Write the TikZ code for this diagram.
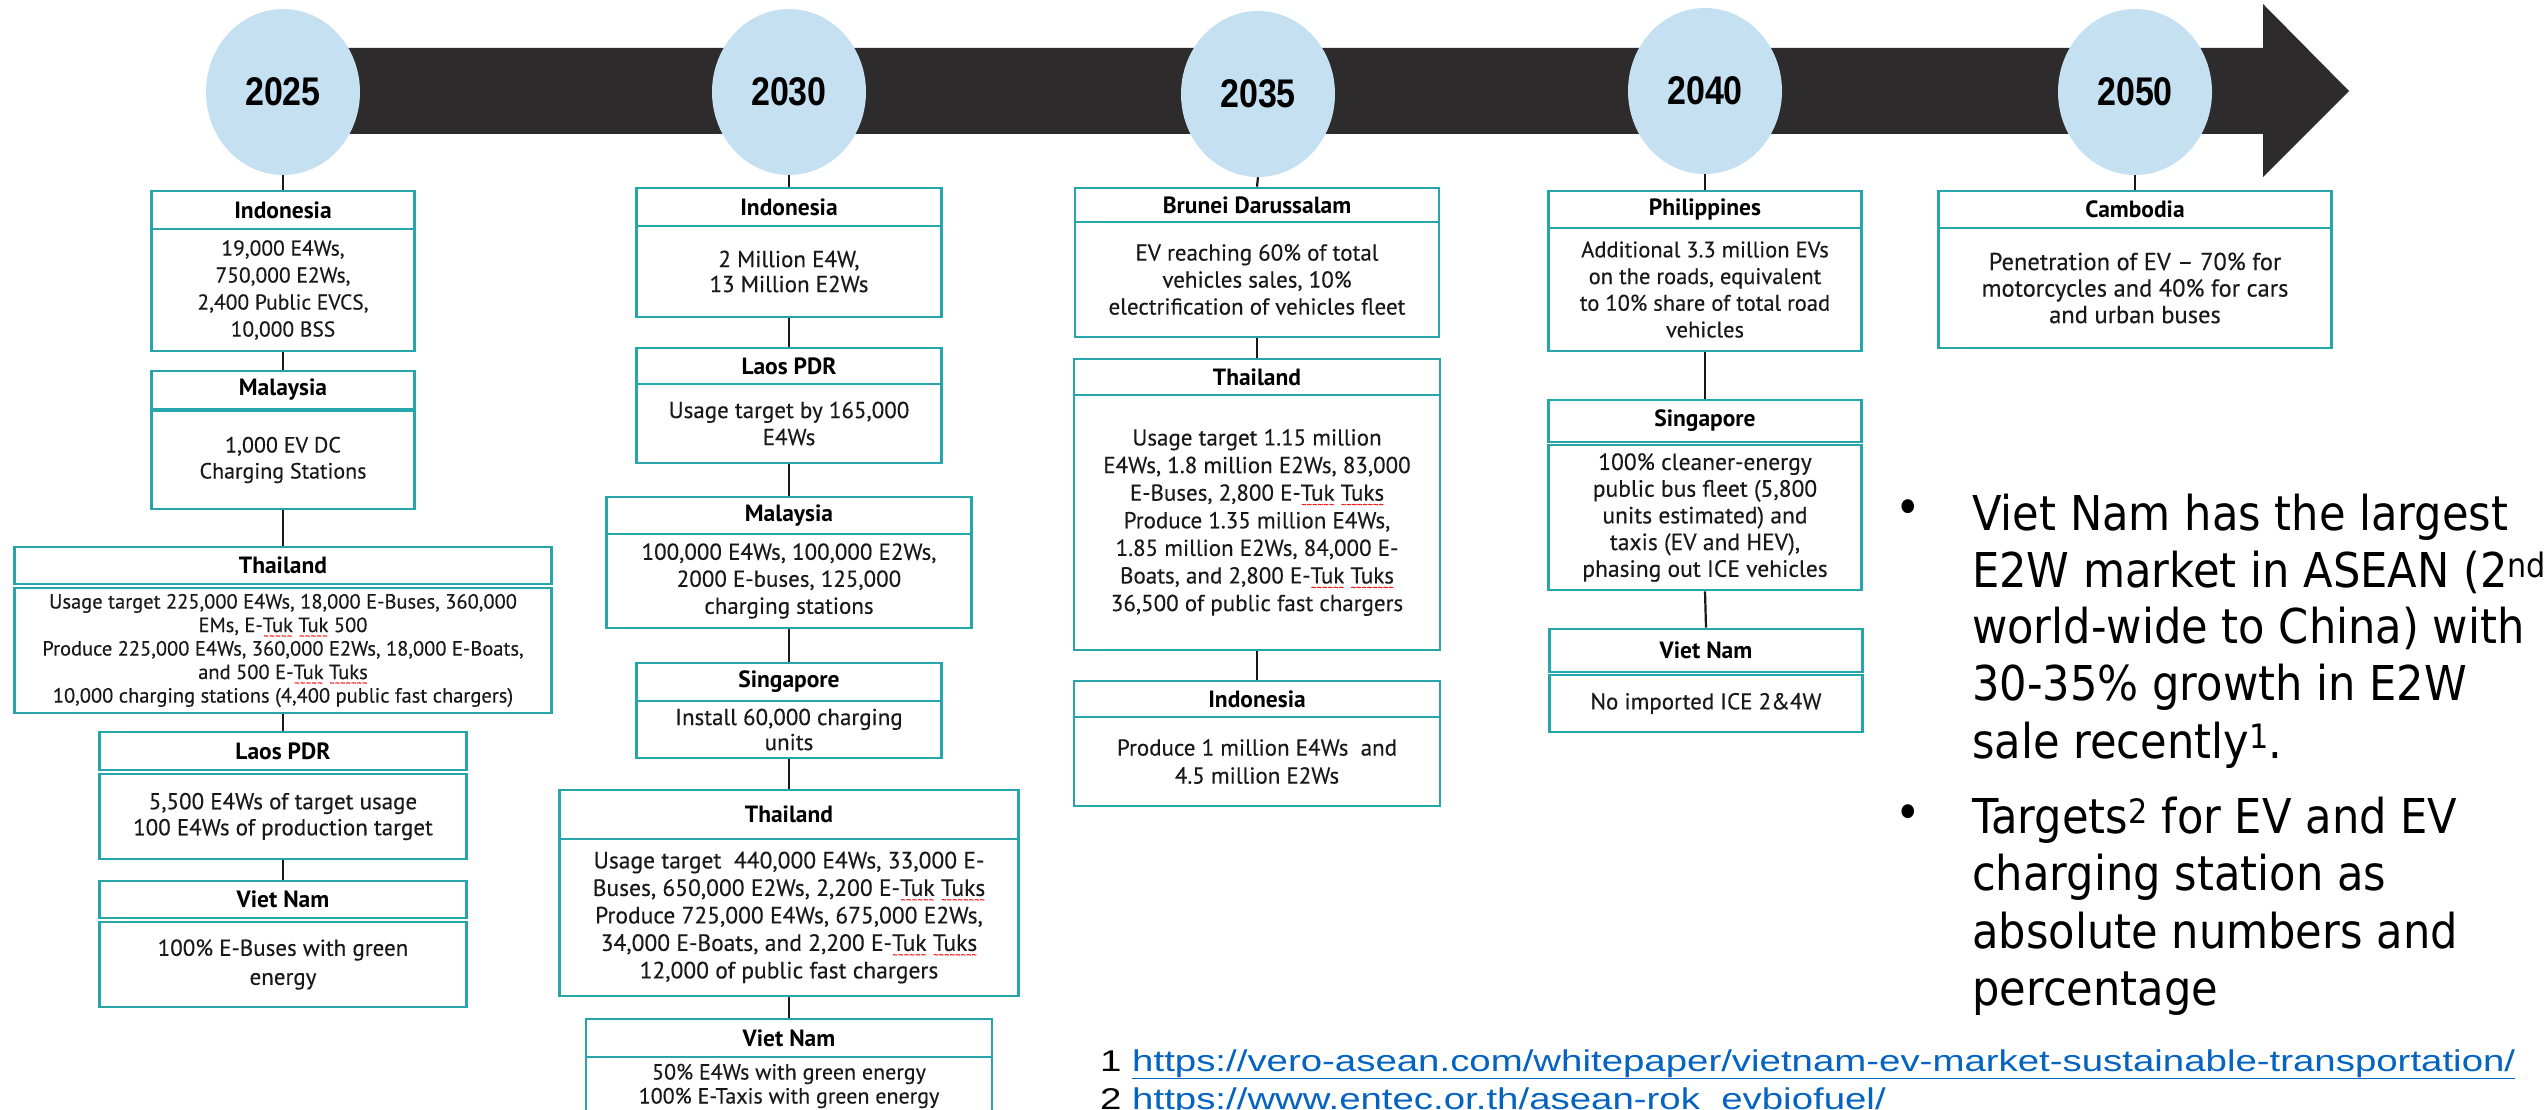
\documentclass[tikz,border=0pt]{standalone}
\usepackage{fontspec}
\usetikzlibrary{shapes.geometric}
\setmainfont{PT Sans}[UprightFeatures={FakeBold=0.3}]
\newfontfamily\yearfont[FakeStretch=0.85]{Liberation Sans}
\newfontfamily\bulfont[FakeStretch=0.9]{DejaVu Sans}
\newfontfamily\footfont[FakeStretch=1.28]{Liberation Sans}
\definecolor{teal1}{RGB}{38,166,170}
\definecolor{ellc}{RGB}{197,225,241}
\definecolor{barc}{RGB}{45,43,44}
\definecolor{txt}{RGB}{25,25,25}
\definecolor{linkc}{RGB}{5,99,193}
\newcommand\myfs[2]{\fontsize{#1}{#2}\selectfont}
\newcommand\sq[1]{\setbox0=\hbox{#1}\rlap{\raisebox{-7.5pt}[0pt][0pt]{\color{red}\myfs{10}{10}\hbox to \wd0{\xleaders\hbox{\char"7E}\hfil}}}#1}
\newcommand\tbox[6]{\node[ttl, minimum width=#3pt, minimum height={(#5-#4)*1pt}] (#1) at (#2,{(#4+#5)/2}) {#6};}
\newcommand\bbox[7]{\node[bdy, font={\myfs#6}, minimum width=#3pt, minimum height={(#5-#4)*1pt}] (#1) at (#2,{(#4+#5)/2}) {#7};}
\tikzset{
  ttl/.style={draw=teal1, line width=2.6pt, fill=white, inner sep=1pt, text=black, font=\bfseries\myfs{23.5}{25}},
  bdy/.style={draw=teal1, line width=2.6pt, fill=white, inner sep=1pt, align=center, text=txt},
  yr/.style={ellipse, fill=ellc, minimum width=154pt, minimum height=166pt, inner sep=0pt, font=\yearfont\bfseries\myfs{40}{40}},
  conn/.style={draw=black!90, line width=2.2pt},
  bul/.style={anchor=base west, inner sep=0pt, font=\bulfont\myfs{48}{57}, text=black},
  bdot/.style={anchor=center, inner sep=0pt, font=\bulfont\myfs{48}{57}, text=black},
  fnote/.style={anchor=base west, inner sep=0pt, font=\footfont\myfs{30}{36}, text=black}
}
\begin{document}
\begin{tikzpicture}[x=1pt,y=-1pt]
\useasboundingbox (0,0) rectangle (2544,1110);
\clip (0,0) rectangle (2544,1110);
\fill[white] (0,0) rectangle (2544,1110);
% timeline arrow
\fill[barc] (283,48) -- (2263,48) -- (2263,4) -- (2349,91) -- (2263,177) -- (2263,134) -- (283,134) -- cycle;
\node[yr] (y1) at (283,92) {2025};
\node[yr] (y2) at (789,92) {2030};
\node[yr] (y3) at (1258,94) {2035};
\node[yr] (y4) at (1705,91) {2040};
\node[yr] (y5) at (2135,92) {2050};
% ---------- 2025 ----------
\tbox{a1t}{283}{263}{191}{229}{Indonesia}
\bbox{a1b}{283}{263}{229}{351}{{21.5}{27}}{19,000 E4Ws,\\750,000 E2Ws,\\2,400 Public EVCS,\\10,000 BSS}
\tbox{b1t}{283}{263}{371}{409}{Malaysia}
\bbox{b1b}{283}{263}{411}{509}{{22}{26}}{1,000 EV DC\\Charging Stations}
\tbox{c1t}{283}{537}{547}{584}{Thailand}
\bbox{c1b}{283}{537}{588}{713}{{20.5}{23.5}}{Usage target 225,000 E4Ws, 18,000 E-Buses, 360,000\\EMs, E-\sq{Tuk} \sq{Tuk} 500\\Produce 225,000 E4Ws, 360,000 E2Ws, 18,000 E-Boats,\\and 500 E-\sq{Tuk} \sq{Tuks}\\10,000 charging stations (4,400 public fast chargers)}
\tbox{d1t}{283}{367}{732}{770}{Laos PDR}
\bbox{d1b}{283}{367}{774}{859}{{23}{26}}{5,500 E4Ws of target usage\\100 E4Ws of production target}
\tbox{e1t}{283}{367}{881}{918}{Viet Nam}
\bbox{e1b}{283}{367}{922}{1007}{{23}{29}}{100\% E-Buses with green\\energy}
\draw[conn] (y1.south) -- (a1t.north);
\draw[conn] (a1b.south) -- (b1t.north);
\draw[conn] (b1b.south) -- (c1t.north);
\draw[conn] (c1b.south) -- (d1t.north);
\draw[conn] (d1b.south) -- (e1t.north);
% ---------- 2030 ----------
\tbox{a2t}{789}{305}{188}{226}{Indonesia}
\bbox{a2b}{789}{305}{226}{317}{{23}{25}}{2 Million E4W,\\13 Million E2Ws}
\tbox{b2t}{789}{305}{348}{384}{Laos PDR}
\bbox{b2b}{789}{305}{384}{463}{{23}{27}}{Usage target by 165,000\\E4Ws}
\tbox{c2t}{789}{365}{497}{534}{Malaysia}
\bbox{c2b}{789}{365}{534}{628}{{23}{27}}{100,000 E4Ws, 100,000 E2Ws,\\2000 E-buses, 125,000\\charging stations}
\tbox{d2t}{789}{305}{663}{701}{Singapore}
\bbox{d2b}{789}{305}{701}{758}{{23}{25}}{Install 60,000 charging\\units}
\tbox{e2t}{789}{459}{790}{839}{Thailand}
\bbox{e2b}{789}{459}{839}{996}{{23.5}{27.5}}{Usage target\ \ 440,000 E4Ws, 33,000 E-\\Buses, 650,000 E2Ws, 2,200 E-\sq{Tuk} \sq{Tuks}\\Produce 725,000 E4Ws, 675,000 E2Ws,\\34,000 E-Boats, and 2,200 E-\sq{Tuk} \sq{Tuks}\\12,000 of public fast chargers}
\tbox{f2t}{789}{406}{1019}{1057}{Viet Nam}
\bbox{f2b}{789}{406}{1057}{1115}{{22}{24}}{50\% E4Ws with green energy\\100\% E-Taxis with green energy}
\draw[conn] (y2.south) -- (a2t.north);
\draw[conn] (a2b.south) -- (b2t.north);
\draw[conn] (b2b.south) -- (c2t.north);
\draw[conn] (c2b.south) -- (d2t.north);
\draw[conn] (d2b.south) -- (e2t.north);
\draw[conn] (e2b.south) -- (f2t.north);
% ---------- 2035 ----------
\tbox{a3t}{1257}{364}{188}{222}{Brunei Darussalam}
\bbox{a3b}{1257}{364}{222}{337}{{23}{27}}{EV reaching 60\% of total\\vehicles sales, 10\%\\electrification of vehicles fleet}
\tbox{b3t}{1257}{366}{359}{395}{Thailand}
\bbox{b3b}{1257}{366}{395}{650}{{23}{27.6}}{Usage target 1.15 million\\E4Ws, 1.8 million E2Ws, 83,000\\E-Buses, 2,800 E-\sq{Tuk} \sq{Tuks}\\Produce 1.35 million E4Ws,\\1.85 million E2Ws, 84,000 E-\\Boats, and 2,800 E-\sq{Tuk} \sq{Tuks}\\36,500 of public fast chargers}
\tbox{c3t}{1257}{366}{681}{717}{Indonesia}
\bbox{c3b}{1257}{366}{717}{806}{{23}{28}}{Produce 1 million E4Ws\ \ and\\4.5 million E2Ws}
\draw[conn] (y3.south) -- (a3t.north);
\draw[conn] (a3b.south) -- (b3t.north);
\draw[conn] (b3b.south) -- (c3t.north);
% ---------- 2040 ----------
\tbox{a4t}{1705}{313}{191}{228}{Philippines}
\bbox{a4b}{1705}{313}{228}{351}{{22.5}{26.7}}{Additional 3.3 million EVs\\on the roads, equivalent\\to 10\% share of total road\\vehicles}
\tbox{b4t}{1705}{313}{400}{442}{Singapore}
\bbox{b4b}{1705}{313}{445}{590}{{23.5}{26.7}}{100\% cleaner-energy\\public bus fleet (5,800\\units estimated) and\\taxis (EV and HEV),\\phasing out ICE vehicles}
\tbox{c4t}{1706}{313}{629}{672}{Viet Nam}
\bbox{c4b}{1706}{313}{675}{732}{{23}{26}}{No imported ICE 2\&4W}
\draw[conn] (y4.south) -- (a4t.north);
\draw[conn] (a4b.south) -- (b4t.north);
\draw[conn] (b4b.south) -- (c4t.north);
% ---------- 2050 ----------
\tbox{a5t}{2135}{393}{191}{228}{Cambodia}
\bbox{a5b}{2135}{393}{228}{348}{{24.5}{26.5}}{Penetration of EV – 70\% for\\motorcycles and 40\% for cars\\and urban buses}
\draw[conn] (y5.south) -- (a5t.north);
% ---------- bullets ----------
\node[bdot] (bu1) at (1908,512) {•};
\node[bul] (l1) at (1972,530) {Viet Nam has the largest};
\node[bul] (l2) at (1972,587) {E2W market in ASEAN (2\textsuperscript{nd}};
\node[bul] (l3) at (1972,643) {world-wide to China) with};
\node[bul] (l4) at (1972,700) {30-35\% growth in E2W};
\node[bul] (l5) at (1972,758) {sale recently\textsuperscript{1}.};
\node[bdot] (bu2) at (1908,817) {•};
\node[bul] (l6) at (1972,833) {Targets\textsuperscript{2} for EV and EV};
\node[bul] (l7) at (1972,890) {charging station as};
\node[bul] (l8) at (1972,948) {absolute numbers and};
\node[bul] (l9) at (1972,1005) {percentage};
% ---------- footnotes ----------
\node[fnote] (fn1) at (1100,1071) {1 \textcolor{linkc}{\underline{https://vero-asean.com/whitepaper/vietnam-ev-market-sustainable-transportation/}}};
\node[fnote] (fn2) at (1100,1109) {2 \textcolor{linkc}{\underline{https://www.entec.or.th/asean-rok\_evbiofuel/}}};
\end{tikzpicture}
\end{document}
